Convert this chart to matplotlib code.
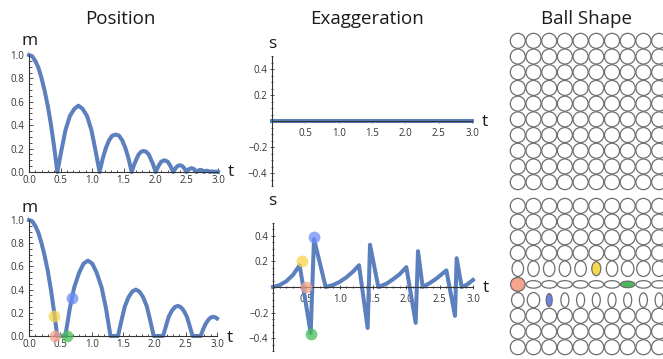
import matplotlib
matplotlib.use('Agg')
import matplotlib.pyplot as plt
from matplotlib.patches import Ellipse
from matplotlib.ticker import MultipleLocator

plt.rcParams['font.family'] = ['Open Sans', 'DejaVu Sans']

# ---------------- data ----------------
pos_top_t = [0.00, 0.05, 0.10, 0.15, 0.20, 0.25, 0.30, 0.35, 0.40, 0.45,
             0.52, 0.58, 0.65, 0.72, 0.785, 0.85, 0.92, 0.99, 1.05, 1.12,
             1.17, 1.22, 1.27, 1.32, 1.375, 1.43, 1.48, 1.53, 1.58, 1.63,
             1.67, 1.71, 1.74, 1.78, 1.82, 1.86, 1.90, 1.93, 1.97, 2.01,
             2.06, 2.10, 2.15, 2.20, 2.24, 2.29,
             2.325, 2.36, 2.395, 2.43, 2.465, 2.50,
             2.54, 2.58, 2.62, 2.66,
             2.69, 2.72, 2.75, 2.78,
             2.80, 2.825, 2.85, 2.87,
             2.905, 2.94, 2.97, 3.00]
pos_top_m = [1.00, 0.99, 0.95, 0.89, 0.80, 0.69, 0.56, 0.40, 0.21, 0.00,
             0.20, 0.36, 0.48, 0.54, 0.567, 0.54, 0.48, 0.36, 0.20, 0.00,
             0.115, 0.205, 0.27, 0.31, 0.32, 0.31, 0.27, 0.205, 0.115, 0.00,
             0.065, 0.115, 0.15, 0.173, 0.18, 0.173, 0.15, 0.115, 0.065, 0.00,
             0.056, 0.089, 0.10, 0.089, 0.056, 0.00,
             0.032, 0.052, 0.058, 0.052, 0.032, 0.00,
             0.025, 0.033, 0.025, 0.00,
             0.014, 0.019, 0.014, 0.00,
             0.008, 0.011, 0.008, 0.00,
             0.006, 0.00, 0.004, 0.00]

pos_bot_t = [0.00, 0.05, 0.10, 0.15, 0.20, 0.25, 0.30, 0.35, 0.40, 0.45,
             0.58,
             0.65, 0.72, 0.80, 0.87, 0.94, 1.01, 1.08, 1.16, 1.23, 1.30,
             1.42,
             1.48, 1.53, 1.59, 1.65, 1.705, 1.76, 1.82, 1.88, 1.93, 1.99,
             2.14,
             2.19, 2.23, 2.28, 2.33, 2.375, 2.42, 2.47, 2.52, 2.56, 2.61,
             2.74,
             2.78, 2.82, 2.86, 2.90, 2.94, 2.98, 3.00]
pos_bot_m = [1.00, 0.99, 0.95, 0.89, 0.80, 0.69, 0.56, 0.40, 0.21, 0.00,
             0.00,
             0.234, 0.416, 0.546, 0.624, 0.65, 0.624, 0.546, 0.416, 0.234, 0.00,
             0.00,
             0.144, 0.256, 0.336, 0.384, 0.40, 0.384, 0.336, 0.256, 0.144, 0.00,
             0.00,
             0.094, 0.166, 0.218, 0.25, 0.26, 0.25, 0.218, 0.166, 0.094, 0.00,
             0.00,
             0.06, 0.106, 0.139, 0.159, 0.166, 0.159, 0.151]

exg_top_t = [0.0, 3.0]
exg_top_s = [0.0, 0.0]

exg_bot_t = [0.00, 0.10, 0.20, 0.30, 0.40, 0.565, 0.615, 0.79, 0.90, 1.00, 1.10, 1.20, 1.29,
             1.42, 1.455, 1.58, 1.70, 1.80, 1.90, 2.00, 2.14, 2.175, 2.245, 2.35, 2.45, 2.60,
             2.73, 2.755, 2.83, 2.90, 3.00]
exg_bot_s = [0.00, 0.015, 0.045, 0.095, 0.17, -0.36, 0.375, 0.00, 0.015, 0.04, 0.075, 0.12, 0.17,
             -0.32, 0.33, 0.00, 0.025, 0.06, 0.10, 0.155, -0.28, 0.28, 0.00, 0.03, 0.065, 0.13,
             -0.225, 0.225, 0.00, 0.015, 0.055]

dot_colors = ['#F7D448', '#F4A38B', '#46C058', '#6C8CF6']
pos_dot_t = [0.40, 0.415, 0.60, 0.69]
pos_dot_m = [0.17, 0.00, 0.00, 0.325]
exg_dot_t = [0.44, 0.49, 0.57, 0.615]
exg_dot_s = [0.20, 0.00, -0.37, 0.39]

pos_xticks = [0.0, 0.5, 1.0, 1.5, 2.0, 2.5, 3.0]
pos_yticks = [0.0, 0.2, 0.4, 0.6, 0.8, 1.0]
exg_xticks = [0.5, 1.0, 1.5, 2.0, 2.5, 3.0]
exg_yticks = [-0.4, -0.2, 0.2, 0.4]

titles = ['Position', 'Exaggeration', 'Ball Shape']

# ball shape grid (10 x 10); special rows of bottom grid (widths/heights in px)
grid_n = 10
row5_w = [11.5, 11.5, 11.5, 11.5, 11.5, 9.0, 11.5, 12.5, 13.5, 13.5]
row5_h = [15.5, 15.5, 15.5, 15.5, 15.5, 14.0, 15.5, 15.5, 15.5, 15.5]
row6_w = [14.5, 15.0, 15.0, 15.0, 15.0, 15.0, 15.0, 14.5, 15.0, 15.0]
row6_h = [14.0, 7.5, 7.5, 7.5, 7.5, 7.5, 7.5, 6.5, 7.5, 7.5]
row7_w = [12.5, 12.5, 6.0, 8.0, 8.0, 8.0, 8.0, 8.0, 8.0, 8.0]
row7_h = [15.0, 15.0, 13.0, 14.5, 14.5, 14.5, 14.5, 14.5, 14.5, 14.5]
highlight = {(4, 5): '#F6D84C', (5, 0): '#F4A58C', (5, 7): '#4DB85E', (6, 2): '#6A86E8'}

# ---------------- figure ----------------
W, H = 663, 359
fig = plt.figure(figsize=(W / 100, H / 100), dpi=100)
LINE = '#5B80BD'
AXC = '#333333'


def px_axes(l, r, t, b):
    return fig.add_axes([l / W, 1 - b / H, (r - l) / W, (b - t) / H])


def ftext(x, y, s, size, ha='center', va='baseline'):
    fig.text(x / W, 1 - y / H, s, fontsize=size, ha=ha, va=va, color='#1a1a1a')


def base_style(ax):
    ax.patch.set_visible(False)
    for sp in ['top', 'right']:
        ax.spines[sp].set_visible(False)
    for sp in ['left', 'bottom']:
        ax.spines[sp].set_linewidth(0.8)
        ax.spines[sp].set_color(AXC)


def pos_axes(l, r, t, b, tt, mm):
    ax = px_axes(l, r, t, b)
    base_style(ax)
    ax.set_xlim(0, 3)
    ax.set_ylim(0, 1)
    ax.plot(tt, mm, color=LINE, lw=2.9, clip_on=False, solid_joinstyle='round')
    ax.set_xticks(pos_xticks)
    ax.set_xticklabels([f'{v:.1f}' for v in pos_xticks])
    ax.set_yticks(pos_yticks)
    ax.set_yticklabels([f'{v:.1f}' for v in pos_yticks])
    ax.xaxis.set_minor_locator(MultipleLocator(0.1))
    ax.yaxis.set_minor_locator(MultipleLocator(0.05))
    ax.tick_params(which='both', direction='in', colors=AXC, labelsize=7, width=0.6)
    ax.tick_params(which='major', length=3)
    ax.tick_params(which='minor', length=1.8)
    ax.tick_params(axis='x', pad=2)
    ax.tick_params(axis='y', pad=3.5)
    return ax


def exg_axes(l, r, t, b, tt, ss):
    ax = px_axes(l, r, t, b)
    base_style(ax)
    ax.set_xlim(0, 3)
    ax.set_ylim(-0.5, 0.5)
    ax.spines['bottom'].set_position(('data', 0))
    ax.plot(tt, ss, color=LINE, lw=2.9, clip_on=False, solid_joinstyle='round')
    ax.set_xticks(exg_xticks)
    ax.set_xticklabels([f'{v:.1f}' for v in exg_xticks])
    ax.set_yticks(exg_yticks)
    ax.set_yticklabels([f'{v:.1f}'.replace('-', '\u2212') for v in exg_yticks])
    ax.xaxis.set_minor_locator(MultipleLocator(0.1))
    ax.yaxis.set_minor_locator(MultipleLocator(0.05))
    ax.tick_params(which='both', direction='inout', colors=AXC, labelsize=7, width=0.6)
    ax.tick_params(which='major', length=3.5)
    ax.tick_params(which='minor', length=2)
    ax.tick_params(axis='x', pad=3.5)
    ax.tick_params(axis='y', pad=1.5)
    return ax


ax1 = pos_axes(29, 218, 55, 172, pos_top_t, pos_top_m)
ax2 = pos_axes(29, 217, 220, 336, pos_bot_t, pos_bot_m)
for t, m, c in zip(pos_dot_t, pos_dot_m, dot_colors):
    ax2.plot([t], [m], 'o', ms=8.5, color=c, alpha=0.75, mew=0, clip_on=False, zorder=4)

ax3 = exg_axes(272, 472, 56, 186, exg_top_t, exg_top_s)
ax4 = exg_axes(273, 473, 223, 351, exg_bot_t, exg_bot_s)
for t, s, c in zip(exg_dot_t, exg_dot_s, dot_colors):
    ax4.plot([t], [s], 'o', ms=8.5, color=c, alpha=0.75, mew=0, clip_on=False, zorder=4)

# titles and axis labels
ftext(120, 24.5, titles[0], 13.5)
ftext(367.5, 24.5, titles[1], 13.5)
ftext(586.7, 24.5, titles[2], 13.5)
ftext(29.5, 45, 'm', 12.5)
ftext(29.5, 212, 'm', 12.5)
ftext(231, 176.5, 't', 12.5)
ftext(230, 342, 't', 12.5)
ftext(272.5, 48, 's', 12.5)
ftext(272.5, 205, 's', 12.5)
ftext(485, 126, 't', 12.5)
ftext(486, 292, 't', 12.5)

# ball shape grids
axg = px_axes(495, 663, 0, 359)
axg.set_xlim(495, 663)
axg.set_ylim(359, 0)
axg.axis('off')
step = 15.7
x0 = 517.8
special = {4: (row5_w, row5_h), 5: (row6_w, row6_h), 6: (row7_w, row7_h)}
for gy0, is_bottom in [(40.85, False), (205.9, True)]:
    for r in range(grid_n):
        for c in range(grid_n):
            w, h = 15.0, 15.0
            fc = 'white'
            if is_bottom and r in special:
                w = special[r][0][c]
                h = special[r][1][c]
            if is_bottom and (r, c) in highlight:
                fc = highlight[(r, c)]
            e = Ellipse((x0 + c * step, gy0 + r * step), w, h, facecolor=fc,
                        edgecolor='#6e6e6e', lw=0.9)
            axg.add_patch(e)

fig.savefig('out.png', dpi=100)
